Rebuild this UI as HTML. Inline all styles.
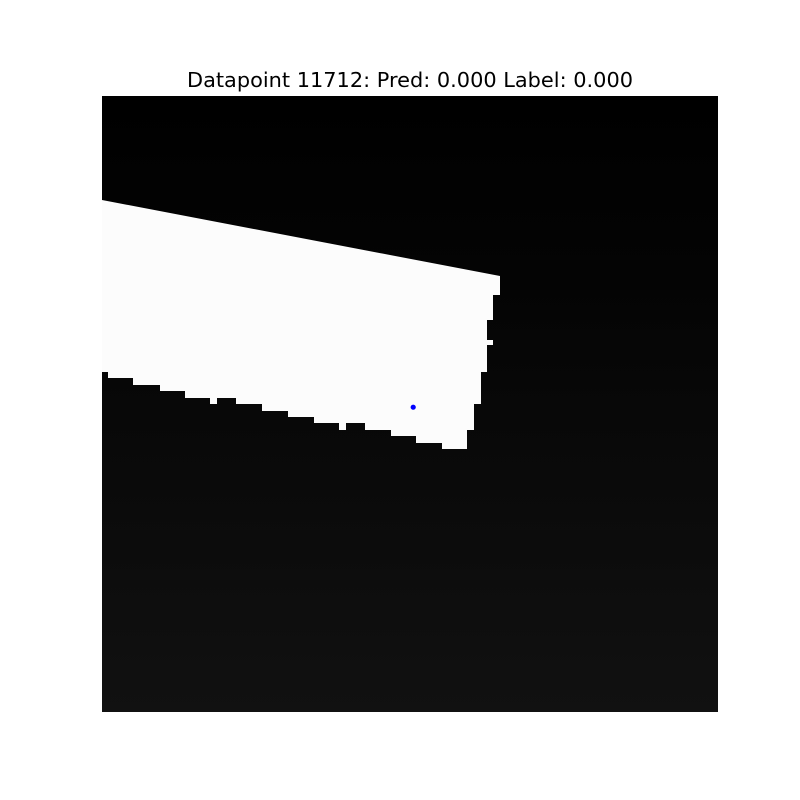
<!DOCTYPE html>
<html><head><meta charset="utf-8"><style>
html,body{margin:0;padding:0;background:#fff;}
#wrap{position:relative;width:800px;height:800px;overflow:hidden;background:#fff;font-family:"DejaVu Sans","Liberation Sans",sans-serif;}
</style></head><body>
<div id="wrap">
<svg width="800" height="800" viewBox="0 0 800 800">
<defs>
<linearGradient id="bg" x1="0" y1="0" x2="0" y2="1">
<stop offset="0" stop-color="#000"/>
<stop offset="0.3" stop-color="#040404"/>
<stop offset="1" stop-color="#111"/>
</linearGradient>
</defs>
<text x="410" y="87" text-anchor="middle" font-family="DejaVu Sans, Liberation Sans, sans-serif" font-size="20" textLength="446" lengthAdjust="spacingAndGlyphs" fill="#000">Datapoint 11712: Pred: 0.000 Label: 0.000</text>
<rect x="102" y="96" width="616" height="616" fill="url(#bg)"/>
<polygon fill="#fcfcfc"
 points="102,200 500,276 500,295 493,295 493,320 487,320 487,340 493,340 493,345 487,345 487,372 481,372 481,404 474,404 474,430 467,430 467,449 442,449 442,443 416,443 416,436 391,436 391,430 365,430 365,423 346,423 346,430 339,430 339,423 314,423 314,417 288,417 288,411 262,411 262,404 236,404 236,398 217,398 217,404 210,404 210,398 185,398 185,391 160,391 160,385 133,385 133,378 108,378 108,372 102,372"/>
<g id="marks"></g>
</svg>
</div>
<script>
const pointX = [48.5];
const pointY = [48.5];
const imgSize = 96;
const x0 = 102, y0 = 96, span = 616;
function sx(v){return x0 + v/imgSize*span;}
function sy(v){return y0 + v/imgSize*span;}
const g = document.getElementById('marks');
pointX.forEach((v,i)=>{
  const c = document.createElementNS('http://www.w3.org/2000/svg','circle');
  c.setAttribute('cx', sx(v));
  c.setAttribute('cy', sy(pointY[i]));
  c.setAttribute('r', 2.6);
  c.setAttribute('fill', '#0000ff');
  
  
  g.appendChild(c);
});
</script>
</body></html>
